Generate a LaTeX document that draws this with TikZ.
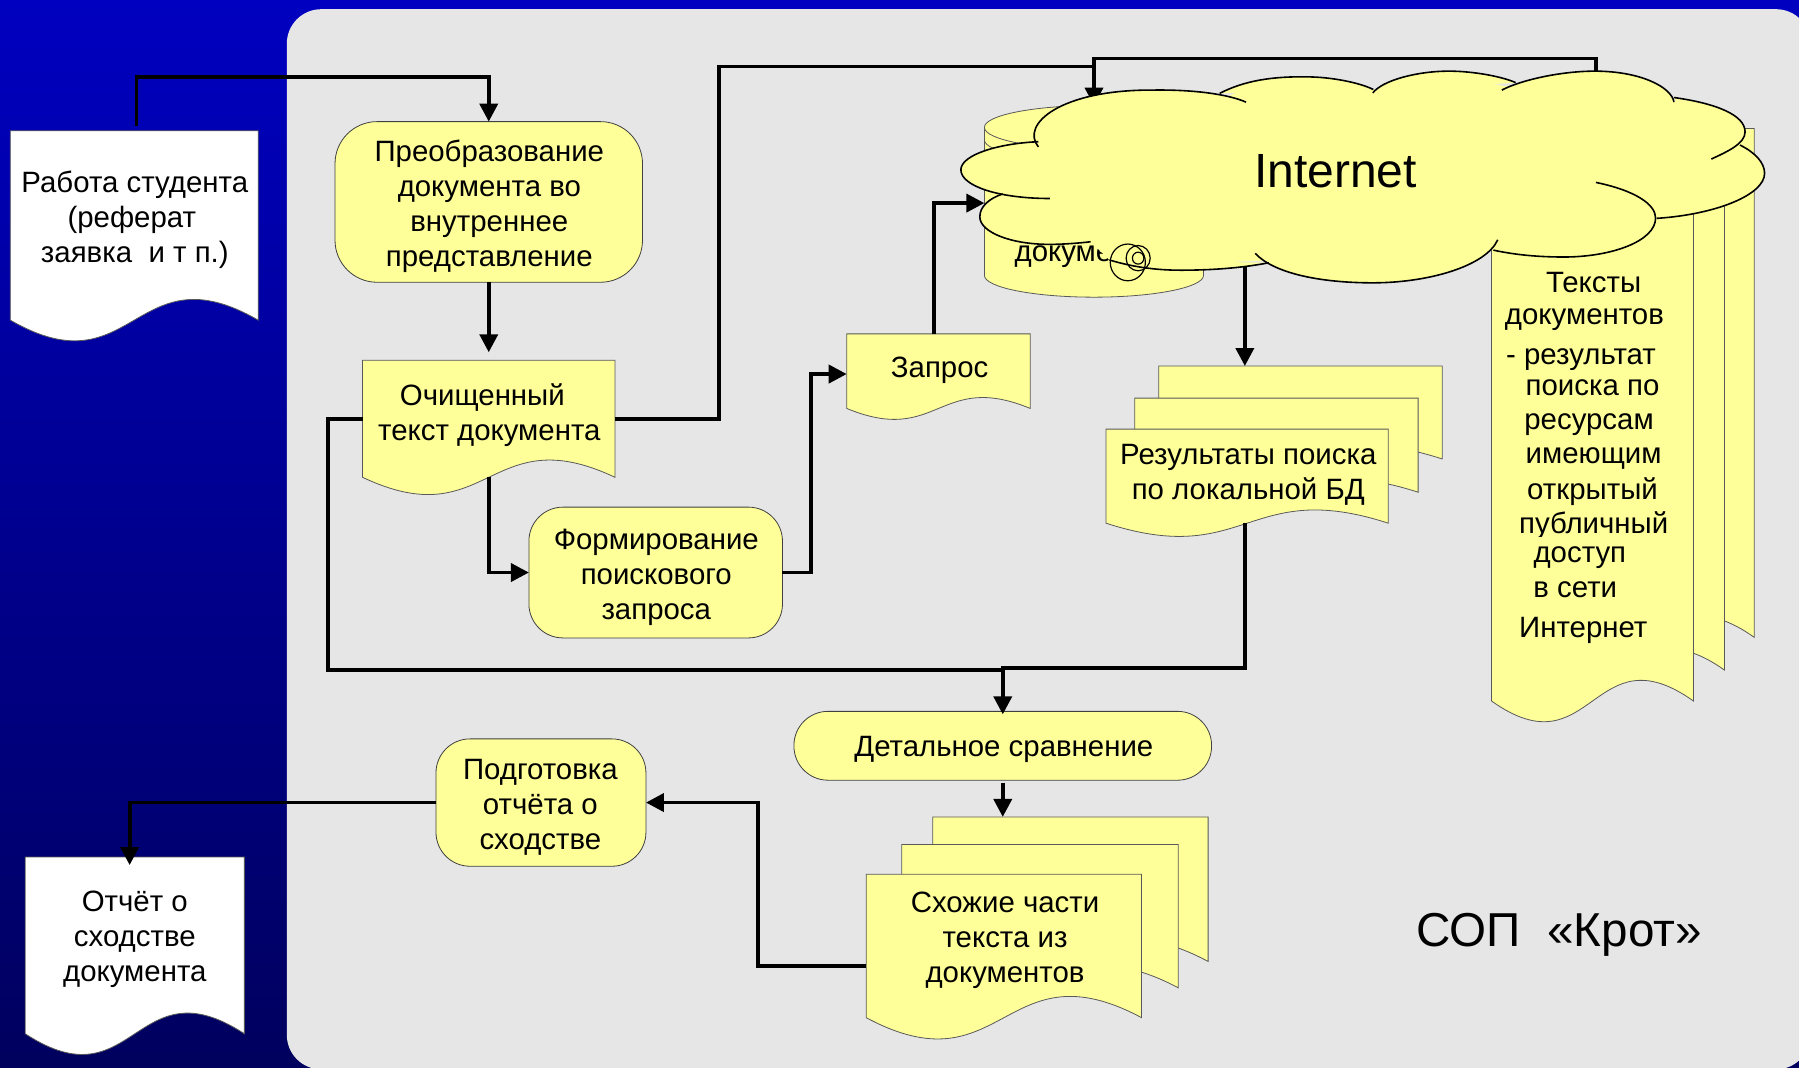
\documentclass[tikz,border=0pt]{standalone}
\usepackage{fontspec}
\setmainfont{Liberation Sans}
\usetikzlibrary{arrows.meta}
\definecolor{yel}{HTML}{FFFF99}
\definecolor{panelgrey}{HTML}{E6E6E6}
\definecolor{bgtop}{RGB}{0,0,192}
\definecolor{bgbot}{RGB}{0,0,94}
\def\uu{0.57366pt}
\tikzset{
  conn/.style={line width=1.9pt,-{Triangle[length=9pt,width=9pt]},line join=miter},
  connplain/.style={line width=1.9pt,line join=miter},
  docline/.style={draw=black!65,line width=0.4pt},
  ghost/.style={inner sep=0pt,outer sep=0pt,draw=none},
  txt/.style={font=\fontsize{14.7}{17.5}\selectfont,align=center,inner sep=0pt,text=black,yshift=-1.4pt},
  procbox/.style={draw=black!75,line width=0.4pt,fill=yel,rounded corners=#1,inner sep=0pt},
  cloudline/.style={draw=black,line width=0.8pt}
}
\newcommand{\docshape}[7]{%
  \pgfmathsetmacro\dcx{(#2+#4)/2}%
  \pgfmathsetmacro\dca{#5-#6/0.288}%
  \pgfmathsetmacro\dcb{#5+#6/0.288}%
  \pgfmathsetmacro\dcy{(#3+#5)/2}%
  \draw[docline,fill=#7] (#2,#3) -- (#4,#3) -- (#4,#5) .. controls (\dcx,\dca) and (\dcx,\dcb) .. (#2,#5) -- cycle;
  \node[ghost,minimum width={(#4-#2)*\uu},minimum height={(#5-#3)*\uu}] (#1) at (\dcx,\dcy) {};
}
\newcommand{\procnode}[8]{% name x1 y1 x2 y2 radius textpos text
  \pgfmathsetmacro\dcx{(#2+#4)/2}%
  \pgfmathsetmacro\dcy{(#3+#5)/2}%
  \node[procbox=#6,outer sep=0pt,minimum width={(#4-#2)*\uu},minimum height={(#5-#3)*\uu}] (#1) at (\dcx,\dcy) {};
  \node[txt] (#1-t) at (#7) {#8};
}
\def\arcA{(905,128) .. controls (889,108) and (925,78) .. (1005,78.5) .. controls (1040,78) and (1070,82) .. (1086,89)}
\def\arcB{(1063,81.4) .. controls (1085,70) and (1110,66.5) .. (1139,67) .. controls (1160,67) and (1185,72) .. (1197,78)}
\def\arcC{(1196.5,81) .. controls (1205,70) and (1235,62) .. (1263,62) .. controls (1285,62) and (1310,67) .. (1321,72)}
\def\arcD{(1309,78.5) .. controls (1325,70) and (1360,62) .. (1390,62) .. controls (1430,62) and (1457,76) .. (1459,89)}
\def\arcE{(1459,85) .. controls (1495,90) and (1521,100) .. (1521,115) .. controls (1521,125) and (1506,132) .. (1491.6,138.6)}
\def\arcF{(1516.5,126.4) .. controls (1530,133) and (1538,142) .. (1538,151) .. controls (1538,170) and (1495,187) .. (1444,190.3)}
\def\arcG{(1391,159) .. controls (1425,166) and (1443,178) .. (1443,190) .. controls (1443,210) and (1405,224) .. (1363,224) .. controls (1340,224) and (1320,222) .. (1301.6,218)}
\def\arcH{(1305.4,209) .. controls (1295,232) and (1245,246.5) .. (1196.5,246.5) .. controls (1150,246.5) and (1110,238) .. (1094,220.8)}
\def\arcI{(1106,229) .. controls (1085,233) and (1060,235.5) .. (1029,235.5) .. controls (1005,235.5) and (985,232) .. (967,226.6)}
\def\arcJ{(950.6,210.7) .. controls (940,212) and (925,213) .. (915,213) .. controls (880,213) and (854,202) .. (854,189) .. controls (854,180) and (862,173) .. (874,169)}
\def\arcK{(915,173) .. controls (870,173) and (837.5,162) .. (837.5,148) .. controls (837.5,135) and (870,125) .. (905,123.5)}
\begin{document}
\begin{tikzpicture}[x=\uu,y=-\uu]
\useasboundingbox (0,0) rectangle (1568,930);
\shade[top color=bgtop,bottom color=bgbot] (0,0) rectangle (1568,930);
\fill[panelgrey,rounded corners=17.2pt] (250,8) rectangle (1578,932);

% documents
\docshape{doc1}{9}{114}{225}{279}{18}{white}
\node[txt] (doc1-t) at (117.5,189) {Работа студента\\(реферат\hspace{3pt}\mbox{}\\заявка~~и т п.)};
\docshape{doc2}{316}{314}{536}{416}{15}{yel}
\node[txt] (doc2-t) at (426.5,359.5) {Очищенный\hspace{7pt}\mbox{}\\текст документа};
\docshape{zapros}{738}{291}{898}{356}{9.5}{yel}
\node[txt] (zapros-t) at (819,320) {Запрос};
\docshape{res1}{1010}{319}{1257}{400}{11.5}{yel}
\docshape{res2}{989}{347}{1236}{429}{11.5}{yel}
\docshape{res3}{964}{374}{1210}{456}{11.5}{yel}
\node[txt] (res3-t) at (1088,411) {Результаты поиска\\по локальной БД};
\docshape{txt1}{1353}{112}{1529}{555.5}{18}{yel}
\docshape{txt2}{1327}{140}{1503}{584}{18}{yel}
\docshape{txt3}{1300}{170}{1476}{611}{18}{yel}
\node[txt] (l1) at (1389,243.5) {Тексты};
\node[txt] (l2) at (1381,276.5) {документов};
\node[txt] (l3) at (1378,311) {- результат};
\node[txt,fill=yel,inner ysep=5pt] (l4) at (1388,335.5) {поиска по};
\node[txt] (l5) at (1385,368) {ресурсам};
\node[txt] (l6) at (1389,397.5) {имеющим};
\node[txt] (l7) at (1388,426) {открытый};
\node[txt] (l8) at (1389,456) {публичный};
\node[txt,fill=yel,inner ysep=5pt] (l9) at (1377,484) {доступ};
\node[txt] (l10) at (1373,511.5) {в сети};
\node[txt] (l11) at (1380,547) {Интернет};
\docshape{sim1}{813}{712}{1053}{838}{18.5}{yel}
\docshape{sim2}{786}{736}{1027}{861}{18.5}{yel}
\docshape{sim3}{755}{762}{995}{887}{18.5}{yel}
\node[txt] (sim3-t) at (876,817) {Схожие части\\текста из\\документов};
\docshape{rep}{22}{747}{213}{901}{18}{white}
\node[txt] (rep-t) at (117.5,816.5) {Отчёт о\\сходстве\\документа};

% process boxes
\procnode{preob}{292}{106}{560}{246}{21pt}{426.5,177}{Преобразование\\документа во\\внутреннее\\представление}
\procnode{form}{461}{442}{682}{556}{17pt}{572,500.5}{Формирование\\поискового\\запроса}
\procnode{det}{692}{620}{1056}{680}{17pt}{875,651}{Детальное сравнение}
\procnode{podg}{380}{644}{563}{755}{17pt}{471,701}{Подготовка\\отчёта о\\сходстве}

% database cylinder
\draw[docline,fill=yel] (858,111) -- (858,240) .. controls (858,250.5) and (901,259) .. (953.5,259) .. controls (1006,259) and (1049,250.5) .. (1049,240) -- (1049,111) -- cycle;
\draw[docline,fill=yel] (953.5,111) ellipse[x radius=95.5,y radius=19];
\draw[docline] (858,122) .. controls (858,132) and (901,141) .. (953.5,141);
\node[ghost,minimum width={191*\uu},minimum height={167*\uu}] (db) at (953.5,175.5) {};
\node[txt,anchor=west] (db-t) at (884,221) {докуме};

% junction coordinates
\coordinate (j1) at (119,67);
\coordinate (j4) at (707,326);
\coordinate (j5) at (814,177);
\coordinate (jd) at (627,58);
\coordinate (jt) at (953.5,51);
\coordinate (cloudt) at (1391,62);
\coordinate (cloudb) at (1085,230);
\coordinate (jl) at (286,584);
\coordinate (jm) at (874,584);
\coordinate (jr) at (1085,582);
\coordinate (js) at (661,842);
\coordinate (jp) at (113,754);

% connectors
\draw[conn,shorten <=2.3pt] (doc1.north -| j1) -- (j1) -| (preob.north);
\draw[conn,shorten >=4pt] (preob.south) -- (doc2.north);
\draw[conn] (doc2.south) |- (form.west);
\draw[conn] (form.east) -| (j4) -- (zapros.west |- j4);
\draw[conn] (zapros.north -| j5) -- (j5) -- (db.west |- j5);
\draw[connplain] (doc2.east) -| (jd) -- (db.north |- jd);
\draw[conn] (cloudt) |- (jt) -- (db.north);
\draw[conn] (cloudb) -- (res1.north -| cloudb);
\draw[connplain] (doc2.west) -| (jl) -- (jm);
\draw[conn,shorten >=-1.5pt] (res3.south -| jr) -- (jr) -| (det.north);
\draw[conn,shorten <=1.2pt] (det.south) -- (sim1.north -| det.south);
\draw[conn] (sim3.west |- js) -- (js) |- (podg.east);
\draw[conn] (podg.west) -| (jp);

% cloud
\fill[yel] (905,128) -- (925,95) -- (1005,85) -- (1070,84) -- (1090,76) -- (1139,72) -- (1190,78) -- (1200,78) -- (1263,67) -- (1312,75) -- (1390,67) -- (1450,85) -- (1500,100) -- (1510,120) -- (1516,130) -- (1530,151) -- (1440,185) -- (1420,205) -- (1363,219) -- (1302,216) -- (1196,240) -- (1120,228) -- (1106,227) -- (1029,230) -- (967,226.6) -- (950.6,210.7) -- (915,207) -- (870,190) -- (874,172) -- (915,170) -- cycle;
\fill[yel] \arcA; \fill[yel] \arcB; \fill[yel] \arcC; \fill[yel] \arcD; \fill[yel] \arcE; \fill[yel] \arcF;
\fill[yel] \arcG; \fill[yel] \arcH; \fill[yel] \arcI; \fill[yel] \arcJ; \fill[yel] \arcK;
\draw[cloudline] \arcA; \draw[cloudline] \arcB; \draw[cloudline] \arcC; \draw[cloudline] \arcD; \draw[cloudline] \arcE; \draw[cloudline] \arcF;
\draw[cloudline] \arcG; \draw[cloudline] \arcH; \draw[cloudline] \arcI; \draw[cloudline] \arcJ; \draw[cloudline] \arcK;
\draw[black,line width=0.6pt] (983,228.7) ellipse[x radius=15.3,y radius=16];
\draw[black,line width=0.6pt] (992,225) ellipse[x radius=10.5,y radius=11];
\draw[black,line width=0.6pt] (992,225) ellipse[x radius=5,y radius=5.2];
\node[txt,font=\fontsize{24}{28}\selectfont,yshift=1.4pt] (inet) at (1164,149) {Internet};

\node[txt,font=\fontsize{23.8}{28}\selectfont] (sop) at (1359,812) {СОП~~«Крот»};
\end{tikzpicture}
\end{document}
